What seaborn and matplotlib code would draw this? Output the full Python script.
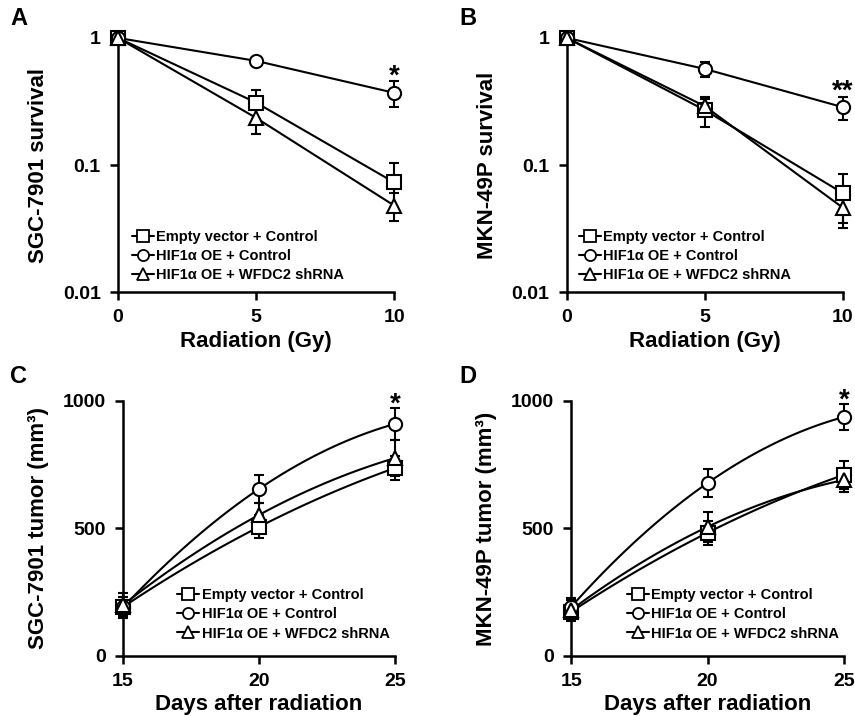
import matplotlib
matplotlib.use("Agg")
import matplotlib.pyplot as plt
import numpy as np
import pandas as pd
import seaborn as sns
from matplotlib.lines import Line2D
from matplotlib.ticker import FixedLocator, NullLocator

# data
groups = ["Empty vector + Control", "HIF1\u03b1 OE + Control", "HIF1\u03b1 OE + WFDC2 shRNA"]
dose_gy = [0, 5, 10]
days = [15, 20, 25]

sgc_survival = [[1.0, 0.31, 0.073], [1.0, 0.66, 0.37], [1.0, 0.235, 0.048]]
sgc_survival_err = [[0.0, 0.08, 0.03], [0.0, 0.04, 0.085], [0.0, 0.06, 0.012]]
mkn_survival = [[1.0, 0.27, 0.060], [1.0, 0.57, 0.285], [1.0, 0.29, 0.046]]
mkn_survival_err = [[0.0, 0.07, 0.025], [0.0, 0.08, 0.06], [0.0, 0.04, 0.014]]

sgc_tumor = [[192, 506, 737], [190, 655, 910], [200, 553, 776]]
sgc_tumor_err = [[40, 45, 48], [40, 55, 62], [45, 47, 72]]
mkn_tumor = [[173, 483, 710], [192, 678, 937], [180, 506, 690]]
mkn_tumor_err = [[35, 48, 55], [35, 55, 52], [40, 58, 47]]

marker_map = {groups[0]: "s", groups[1]: "o", groups[2]: "^"}

sns.set_theme(style="ticks")
plt.rcParams["font.family"] = ["Liberation Sans", "DejaVu Sans"]
plt.rcParams["font.weight"] = "bold"
plt.rcParams["axes.labelweight"] = "bold"
plt.rcParams["text.color"] = "black"
plt.rcParams["axes.labelcolor"] = "black"


def to_frame(xs, means):
    rows = []
    for g, m in zip(groups, means):
        for xv, yv in zip(xs, m):
            rows.append({"x": xv, "y": yv, "group": g})
    return pd.DataFrame(rows)


def draw_panel(ax, xs, means, errs, smooth=False):
    for m, e in zip(means, errs):
        ax.errorbar(xs, m, yerr=e, fmt="none", ecolor="black", elinewidth=1.5,
                    capsize=3.5, capthick=1.5, zorder=2, clip_on=False)
    if smooth:
        # the original draws smooth connecting curves
        for m in means:
            coef = np.polyfit(xs, m, 2)
            xx = np.linspace(xs[0], xs[-1], 120)
            ax.plot(xx, np.polyval(coef, xx), color="black", lw=1.5, zorder=3)
    sns.lineplot(data=to_frame(xs, means), x="x", y="y", style="group",
                 markers=marker_map, dashes=False, color="black",
                 lw=0 if smooth else 1.5, markersize=9.5,
                 markerfacecolor="white", markeredgecolor="black",
                 markeredgewidth=1.5, errorbar=None, legend=False,
                 ax=ax, zorder=4, clip_on=False)

    handles = [Line2D([], [], color="black", lw=1.5, marker=marker_map[g],
                      markersize=8, markerfacecolor="white",
                      markeredgecolor="black", markeredgewidth=1.3)
               for g in groups]
    return handles


def style_axes(ax):
    sns.despine(ax=ax)
    for s in ["left", "bottom"]:
        ax.spines[s].set_linewidth(1.8)
        ax.spines[s].set_color("black")
    ax.tick_params(direction="out", length=5.5, width=1.8, labelsize=14,
                   colors="black", pad=7)
    for lab in ax.get_xticklabels() + ax.get_yticklabels():
        lab.set_fontweight("bold")


fig = plt.figure(figsize=(8.55, 7.16), dpi=100)
ax_a = fig.add_axes([0.138, 0.592, 0.323, 0.355])
ax_b = fig.add_axes([0.663, 0.592, 0.323, 0.355])
ax_c = fig.add_axes([0.144, 0.084, 0.318, 0.356])
ax_d = fig.add_axes([0.668, 0.084, 0.319, 0.356])

panels = [
    (ax_a, dose_gy, sgc_survival, sgc_survival_err, False, "SGC-7901 survival", "Radiation (Gy)", "*", 0.5, 0.05),
    (ax_b, dose_gy, mkn_survival, mkn_survival_err, False, "MKN-49P survival", "Radiation (Gy)", "**", 0.38, 0.045),
    (ax_c, days, sgc_tumor, sgc_tumor_err, True, "SGC-7901 tumor (mm\u00b3)", "Days after radiation", "*", 985, 0.2),
    (ax_d, days, mkn_tumor, mkn_tumor_err, True, "MKN-49P tumor (mm\u00b3)", "Days after radiation", "*", 1000, 0.205),
]

for ax, xs, means, errs, smooth, ylab, xlab, star, star_y, leg_x in panels:
    handles = draw_panel(ax, xs, means, errs, smooth)
    ax.set_xlim(xs[0], xs[-1])
    ax.set_xticks(xs)
    if smooth:
        ax.set_ylim(0, 1000)
        ax.set_yticks([0, 500, 1000])
        leg_y = 0.06
    else:
        ax.set_yscale("log")
        ax.set_ylim(0.01, 1)
        ax.yaxis.set_major_locator(FixedLocator([0.01, 0.1, 1]))
        ax.yaxis.set_minor_locator(NullLocator())
        ax.set_yticklabels(["0.01", "0.1", "1"])
        leg_y = 0.04
    ax.set_xlabel(xlab, fontsize=16, fontweight="bold", labelpad=3)
    ax.set_ylabel(ylab, fontsize=16, fontweight="bold", labelpad=10)
    style_axes(ax)
    ax.text(xs[-1], star_y, star, ha="center", va="center", fontsize=20,
            fontweight="bold")
    ax.legend(handles, groups, loc="lower left", bbox_to_anchor=(leg_x, leg_y),
              frameon=False, handlelength=1.5,
              handletextpad=0.15, labelspacing=0.35, borderpad=0,
              borderaxespad=0, prop={"weight": "bold", "size": 10.5})

for label, x, y in [("A", 0.012, 0.99), ("B", 0.537, 0.99),
                    ("C", 0.012, 0.49), ("D", 0.537, 0.49)]:
    fig.text(x, y, label, fontsize=17, fontweight="bold", va="top", ha="left")

fig.savefig("out.png", dpi=100)
